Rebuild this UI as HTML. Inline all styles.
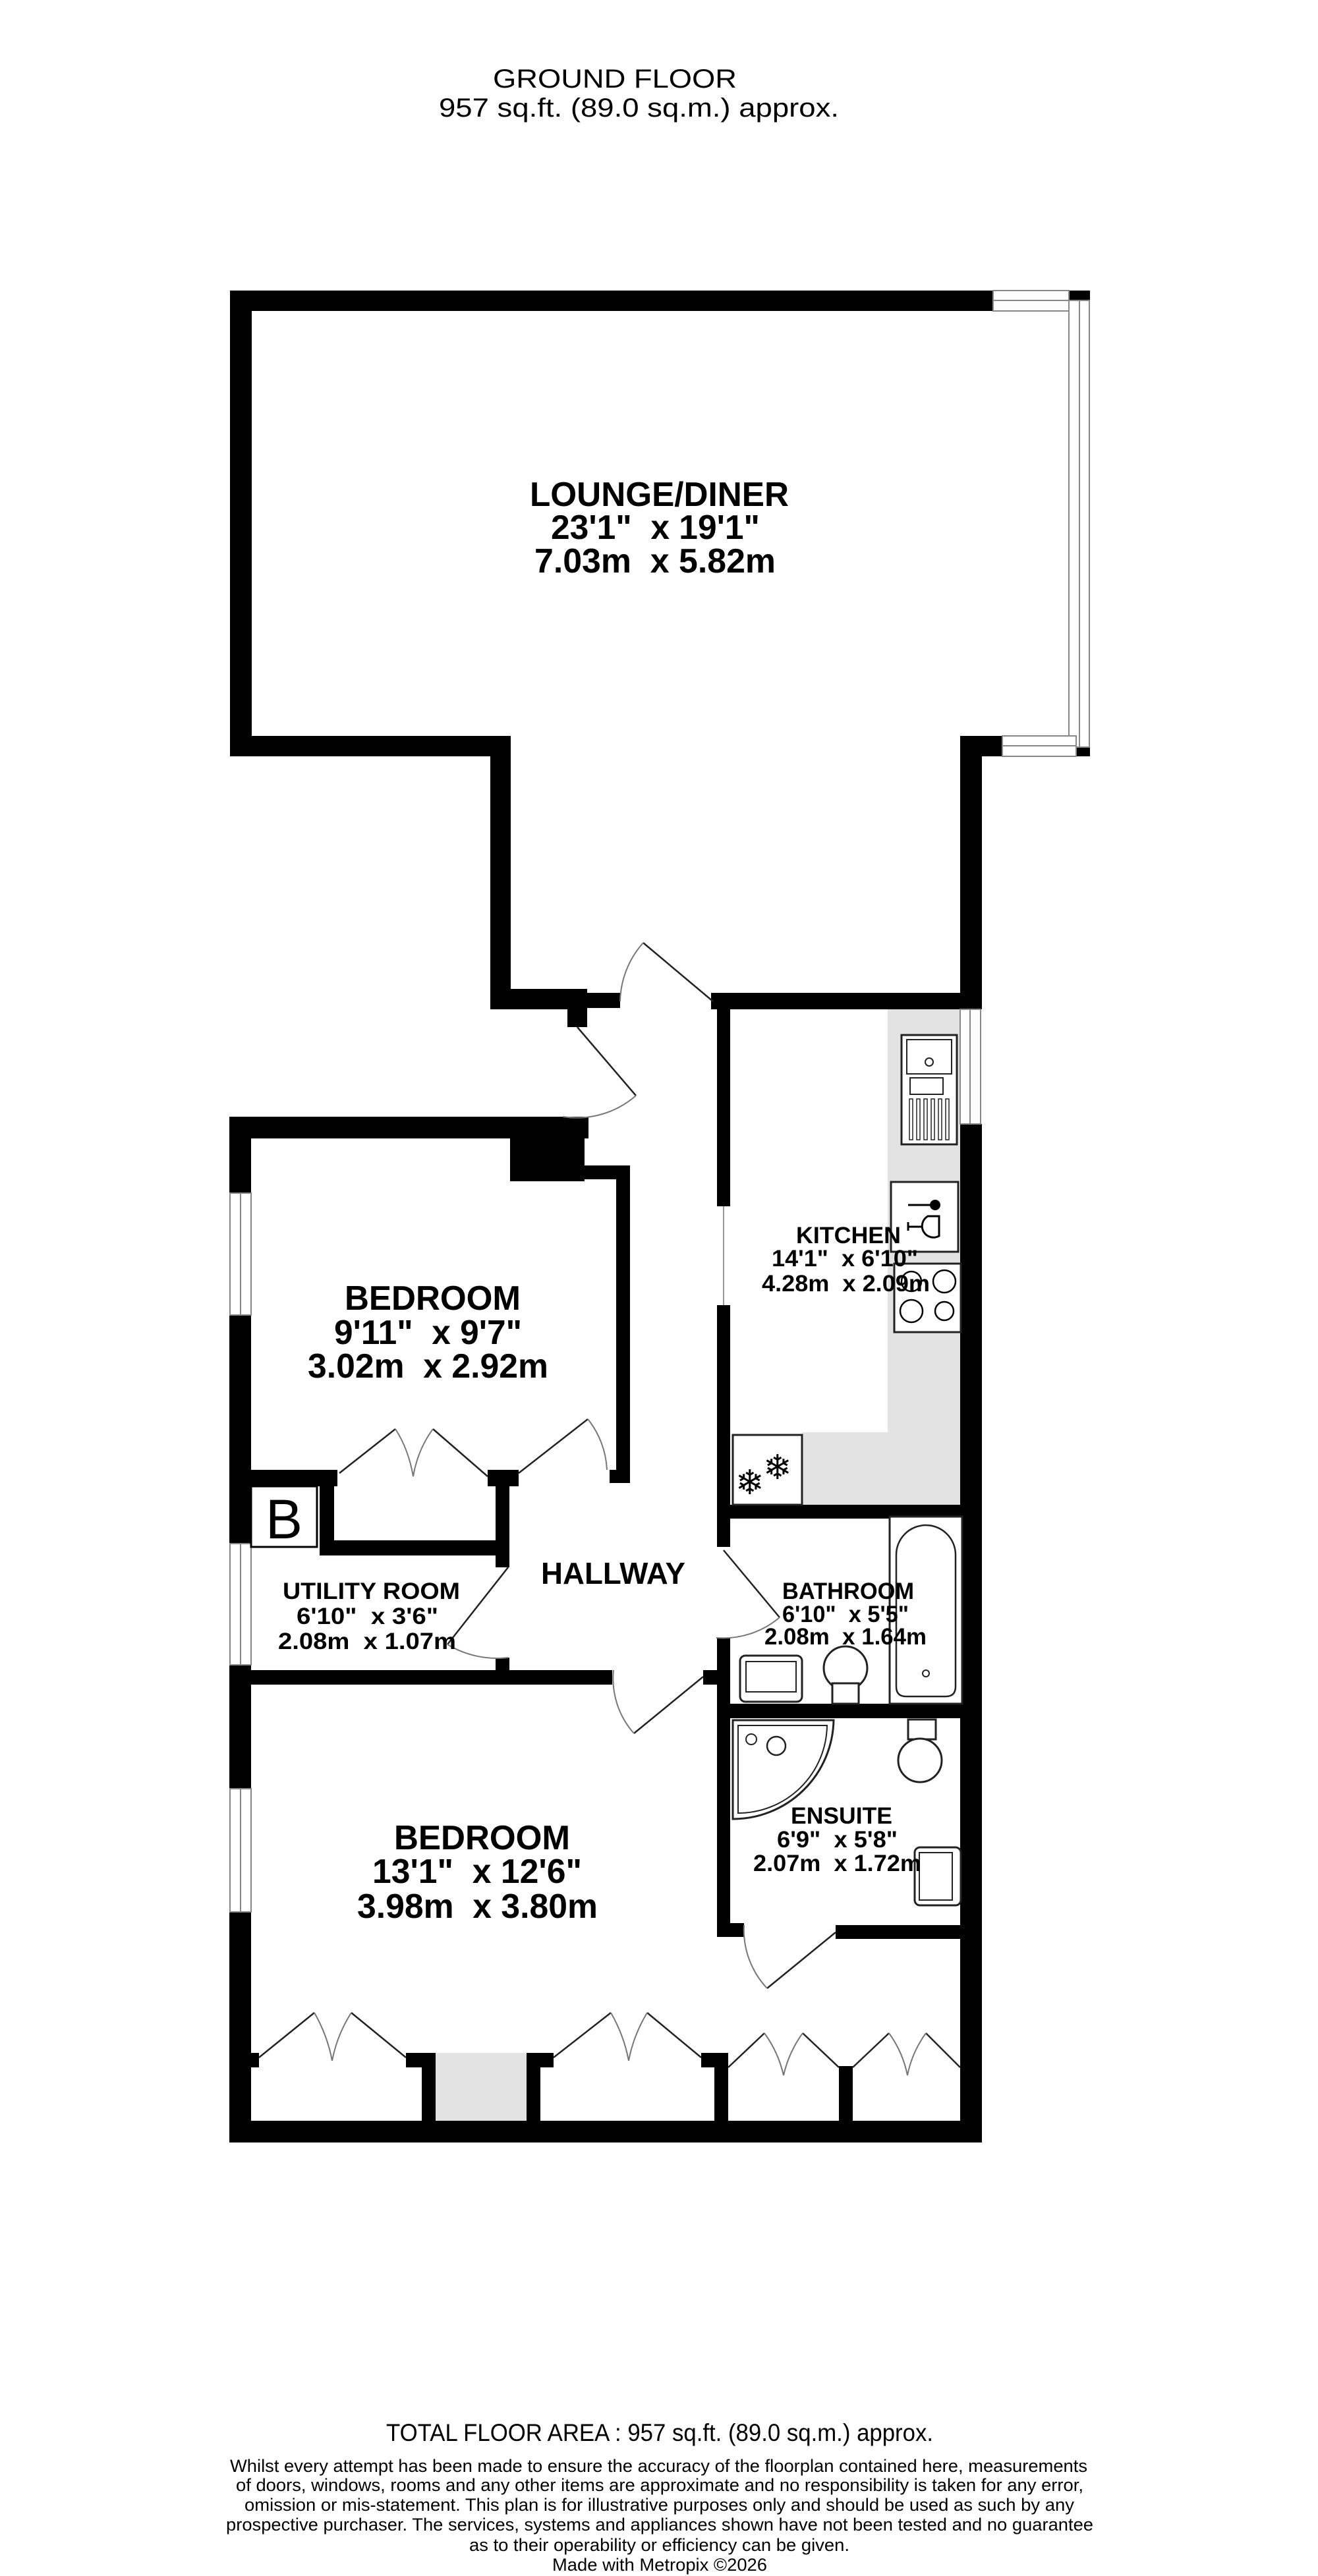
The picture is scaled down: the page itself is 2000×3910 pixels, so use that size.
<!DOCTYPE html>
<html><head><meta charset="utf-8"><style>
html,body{margin:0;padding:0;background:#fff;}
svg{display:block;}
text{font-family:"Liberation Sans",Arial,sans-serif;fill:#000;}
.b{font-weight:bold;}
.d{fill:none;stroke:#222;stroke-width:2.5;}
.a{fill:none;stroke:#777;stroke-width:2;}
.w{fill:#fff;stroke:#888;stroke-width:2;}
.f{fill:#fff;stroke:#222;stroke-width:3;}
</style></head><body>
<svg width="2000" height="3910" viewBox="0 0 2000 3910" xmlns="http://www.w3.org/2000/svg">
<rect width="2000" height="3910" fill="#fff"/>
<text x="748" y="133" font-size="40" textLength="370" lengthAdjust="spacingAndGlyphs">GROUND FLOOR</text>
<text x="666" y="177" font-size="40" textLength="607" lengthAdjust="spacingAndGlyphs">957 sq.ft. (89.0 sq.m.) approx.</text>

<polygon points="1347,1532 1458,1532 1458,2284 1217,2284 1217,2174 1347,2174" fill="#e3e3e3"/>
<rect x="661" y="3116" width="138" height="104" fill="#e3e3e3"/>

<g fill="#000">
<rect x="349" y="441" width="1158" height="31"/>
<rect x="1622" y="441" width="32" height="15"/>
<rect x="1633" y="1134" width="21" height="14"/>
<rect x="349" y="441" width="33" height="707"/>
<rect x="349" y="1117" width="426" height="31"/>
<rect x="744" y="1117" width="31" height="415"/>
<rect x="744" y="1501" width="147" height="31"/>
<rect x="891" y="1507" width="50" height="23"/>
<rect x="861" y="1532" width="30" height="27"/>
<rect x="1079" y="1507" width="408" height="25"/>
<rect x="1457" y="1117" width="64" height="31"/>
<rect x="1457" y="1117" width="33" height="415"/>
<rect x="1457" y="1706" width="33" height="1546"/>
<rect x="1088" y="1532" width="20" height="299"/>
<rect x="1088" y="1981" width="20" height="367"/>
<rect x="1088" y="2284" width="395" height="21"/>
<rect x="348" y="1695" width="545" height="33"/>
<rect x="774" y="1728" width="113" height="65"/>
<rect x="875" y="1769" width="81" height="21"/>
<rect x="935" y="1769" width="21" height="482"/>
<rect x="925" y="2231" width="31" height="20"/>
<rect x="348" y="1695" width="33" height="1557"/>
<rect x="348" y="2231" width="164" height="25"/>
<rect x="485" y="2231" width="22" height="127"/>
<rect x="485" y="2338" width="286" height="23"/>
<rect x="740" y="2231" width="47" height="25"/>
<rect x="752" y="2231" width="21" height="148"/>
<rect x="348" y="2535" width="581" height="22"/>
<rect x="752" y="2516" width="21" height="41"/>
<rect x="1067" y="2535" width="21" height="22"/>
<rect x="1088" y="2486" width="20" height="454"/>
<rect x="1088" y="2919" width="41" height="21"/>
<rect x="1088" y="2586" width="395" height="22"/>
<rect x="1268" y="2922" width="194" height="21"/>
<rect x="380" y="3116" width="13" height="22"/>
<rect x="616" y="3116" width="45" height="22"/>
<rect x="640" y="3116" width="21" height="104"/>
<rect x="799" y="3116" width="41" height="22"/>
<rect x="799" y="3116" width="21" height="104"/>
<rect x="1064" y="3116" width="41" height="22"/>
<rect x="1084" y="3116" width="21" height="104"/>
<rect x="1273" y="3136" width="21" height="84"/>
<rect x="348" y="3219" width="1142" height="33"/>
</g>

<g class="w">
<rect x="1507" y="441" width="115" height="31"/><line x1="1507" y1="456" x2="1622" y2="456"/>
<rect x="1622" y="456" width="31" height="678"/><line x1="1638" y1="456" x2="1638" y2="1134"/>
<rect x="1521" y="1117" width="112" height="31"/><line x1="1521" y1="1132" x2="1633" y2="1132"/>
<rect x="1457" y="1532" width="31" height="174"/><line x1="1472" y1="1532" x2="1472" y2="1706"/>
<rect x="349" y="1811" width="32" height="185"/><line x1="365" y1="1811" x2="365" y2="1996"/>
<rect x="349" y="2343" width="32" height="184"/><line x1="365" y1="2343" x2="365" y2="2527"/>
<rect x="349" y="2715" width="32" height="187"/><line x1="365" y1="2715" x2="365" y2="2902"/>
</g>
<line x1="1098" y1="1831" x2="1098" y2="1981" stroke="#999" stroke-width="2"/>

<line class="d" x1="1082" y1="1520" x2="976" y2="1431"/>
<path class="a" d="M976,1431 A138,138 0 0 0 941,1520"/>
<line class="d" x1="876" y1="1559" x2="965" y2="1663"/>
<path class="a" d="M965,1663 A137,137 0 0 1 854,1695"/>
<line class="d" x1="787" y1="2236" x2="892" y2="2154"/>
<path class="a" d="M892,2154 A133,133 0 0 1 921,2231"/>
<line class="d" x1="771" y1="2379" x2="679" y2="2496"/>
<path class="a" d="M679,2496 A145,145 0 0 0 771,2516"/>
<line class="d" x1="1067" y1="2545" x2="962" y2="2631"/>
<path class="a" d="M962,2631 A125,125 0 0 1 931,2535"/>
<line class="d" x1="1098" y1="2353" x2="1183" y2="2455"/>
<path class="a" d="M1183,2455 A133,133 0 0 1 1087,2486"/>
<line class="d" x1="1268" y1="2933" x2="1164" y2="3018"/>
<path class="a" d="M1164,3018 A130,130 0 0 1 1129,2922"/>
<polyline class="d" points="515,2236 600,2169"/><polyline class="d" points="657,2169 740,2241"/>
<path class="a" d="M600,2169 Q620,2200 627,2241 Q634,2200 657,2169"/>
<polyline class="d" points="393,3123 477,3055"/><polyline class="d" points="533,3055 616,3123"/>
<path class="a" d="M477,3055 Q497,3090 504,3128 Q511,3090 533,3055"/>
<polyline class="d" points="840,3123 927,3055"/><polyline class="d" points="982,3055 1064,3123"/>
<path class="a" d="M927,3055 Q947,3090 954,3128 Q961,3090 982,3055"/>
<polyline class="d" points="1105,3138 1160,3086"/><polyline class="d" points="1218,3086 1273,3138"/>
<path class="a" d="M1160,3086 Q1181,3115 1189,3150 Q1197,3115 1218,3086"/>
<polyline class="d" points="1294,3138 1349,3086"/><polyline class="d" points="1405,3086 1457,3138"/>
<path class="a" d="M1349,3086 Q1370,3115 1377,3150 Q1384,3115 1405,3086"/>

<rect x="381" y="2256" width="100" height="92" fill="#fff" stroke="#000" stroke-width="3"/>
<text x="431" y="2335" font-size="84" text-anchor="middle">B</text>

<rect class="f" x="1368" y="1571" width="84" height="166"/>
<rect class="f" x="1376" y="1578" width="68" height="52" style="stroke-width:2"/>
<circle cx="1410" cy="1612" r="6" fill="none" stroke="#222" stroke-width="2"/>
<rect class="f" x="1381" y="1636" width="50" height="25" style="stroke-width:2"/>
<g stroke="#222" stroke-width="1.5" fill="none">
<rect x="1380" y="1668" width="5" height="62"/><rect x="1391" y="1668" width="5" height="62"/><rect x="1402" y="1668" width="5" height="62"/><rect x="1413" y="1668" width="5" height="62"/><rect x="1424" y="1668" width="5" height="62"/><rect x="1435" y="1668" width="5" height="62"/>
</g>
<rect class="f" x="1352" y="1794" width="102" height="106"/>
<line x1="1378" y1="1829" x2="1412" y2="1829" stroke="#000" stroke-width="3"/><circle cx="1419" cy="1829" r="8"/>
<path d="M1378,1862 H1400 M1378,1855 V1868 M1425,1846 H1408 A15,15 0 0 0 1425,1876 Z" fill="none" stroke="#000" stroke-width="3"/>
<rect class="f" x="1357" y="1918" width="101" height="104"/>
<g fill="none" stroke="#000" stroke-width="2.5"><circle cx="1383" cy="1945" r="15"/><circle cx="1433" cy="1945" r="17"/><circle cx="1383" cy="1990" r="17"/><circle cx="1433" cy="1990" r="14"/></g>
<rect class="f" x="1112" y="2178" width="105" height="106"/>
<text x="1116" y="2268" font-size="52" font-family="DejaVu Sans">❄</text><text x="1158" y="2245" font-size="52" font-family="DejaVu Sans">❄</text>
<rect class="f" x="1350" y="2302" width="110" height="284"/>
<path d="M1360,2560 V2360 A45,45 0 0 1 1450,2360 V2560 Q1450,2575 1435,2575 H1375 Q1360,2575 1360,2560 Z" fill="none" stroke="#222" stroke-width="2.5"/>
<circle cx="1405" cy="2540" r="5" fill="none" stroke="#222" stroke-width="2"/>
<rect class="f" x="1123" y="2513" width="94" height="70" rx="8"/>
<rect x="1132" y="2522" width="76" height="46" fill="none" stroke="#222" stroke-width="2"/>
<circle cx="1283" cy="2532" r="33" fill="#fff" stroke="#222" stroke-width="3"/>
<rect class="f" x="1263" y="2555" width="40" height="31"/>
<path d="M1112,2611 H1265 A153,153 0 0 1 1112,2761 Z" fill="#fff" stroke="#222" stroke-width="3"/>
<path d="M1120,2619 H1255 A135,135 0 0 1 1120,2752 Z" fill="none" stroke="#222" stroke-width="2"/>
<circle cx="1140" cy="2640" r="8" fill="none" stroke="#222" stroke-width="2"/>
<circle cx="1178" cy="2650" r="14" fill="none" stroke="#222" stroke-width="2.5"/>
<rect class="f" x="1378" y="2610" width="42" height="30"/>
<circle cx="1396" cy="2672" r="33" fill="#fff" stroke="#222" stroke-width="3"/>
<rect class="f" x="1388" y="2804" width="70" height="88" rx="8"/>
<rect x="1395" y="2812" width="50" height="72" fill="none" stroke="#222" stroke-width="2"/>

<g class="b">
<text x="804" y="768" font-size="52" textLength="393" lengthAdjust="spacingAndGlyphs">LOUNGE/DINER</text>
<text x="836" y="818" font-size="52" textLength="317" lengthAdjust="spacingAndGlyphs" xml:space="preserve">23'1"  x 19'1"</text>
<text x="811" y="869" font-size="52" textLength="366" lengthAdjust="spacingAndGlyphs" xml:space="preserve">7.03m  x 5.82m</text>
<text x="523" y="1988" font-size="52" textLength="267" lengthAdjust="spacingAndGlyphs">BEDROOM</text>
<text x="507" y="2040" font-size="52" textLength="285" lengthAdjust="spacingAndGlyphs" xml:space="preserve">9'11"  x 9'7"</text>
<text x="467" y="2091" font-size="52" textLength="365" lengthAdjust="spacingAndGlyphs" xml:space="preserve">3.02m  x 2.92m</text>
<text x="1208" y="1887" font-size="35" textLength="159" lengthAdjust="spacingAndGlyphs">KITCHEN</text>
<text x="1171" y="1922" font-size="35" textLength="222" lengthAdjust="spacingAndGlyphs" xml:space="preserve">14'1"  x 6'10"</text>
<text x="1156" y="1960" font-size="35" textLength="255" lengthAdjust="spacingAndGlyphs" xml:space="preserve">4.28m  x 2.09m</text>
<text x="821" y="2404" font-size="46" textLength="219" lengthAdjust="spacingAndGlyphs">HALLWAY</text>
<text x="429" y="2427" font-size="35" textLength="269" lengthAdjust="spacingAndGlyphs">UTILITY ROOM</text>
<text x="450" y="2465" font-size="35" textLength="215" lengthAdjust="spacingAndGlyphs" xml:space="preserve">6'10"  x 3'6"</text>
<text x="422" y="2503" font-size="35" textLength="270" lengthAdjust="spacingAndGlyphs" xml:space="preserve">2.08m  x 1.07m</text>
<text x="1187" y="2427" font-size="35" textLength="200" lengthAdjust="spacingAndGlyphs">BATHROOM</text>
<text x="1187" y="2462" font-size="35" textLength="192" lengthAdjust="spacingAndGlyphs" xml:space="preserve">6'10"  x 5'5"</text>
<text x="1160" y="2496" font-size="35" textLength="246" lengthAdjust="spacingAndGlyphs" xml:space="preserve">2.08m  x 1.64m</text>
<text x="1200" y="2768" font-size="35" textLength="154" lengthAdjust="spacingAndGlyphs">ENSUITE</text>
<text x="1179" y="2804" font-size="35" textLength="183" lengthAdjust="spacingAndGlyphs" xml:space="preserve">6'9"  x 5'8"</text>
<text x="1143" y="2840" font-size="35" textLength="255" lengthAdjust="spacingAndGlyphs" xml:space="preserve">2.07m  x 1.72m</text>
<text x="598" y="2807" font-size="52" textLength="267" lengthAdjust="spacingAndGlyphs">BEDROOM</text>
<text x="565" y="2858" font-size="52" textLength="318" lengthAdjust="spacingAndGlyphs" xml:space="preserve">13'1"  x 12'6"</text>
<text x="542" y="2911" font-size="52" textLength="365" lengthAdjust="spacingAndGlyphs" xml:space="preserve">3.98m  x 3.80m</text>
</g>

<text x="586" y="3705" font-size="37" textLength="830" lengthAdjust="spacingAndGlyphs">TOTAL FLOOR AREA : 957 sq.ft. (89.0 sq.m.) approx.</text>
<g font-size="27">
<text x="349" y="3752" textLength="1301" lengthAdjust="spacingAndGlyphs">Whilst every attempt has been made to ensure the accuracy of the floorplan contained here, measurements</text>
<text x="358" y="3781" textLength="1286" lengthAdjust="spacingAndGlyphs">of doors, windows, rooms and any other items are approximate and no responsibility is taken for any error,</text>
<text x="371" y="3811" textLength="1259" lengthAdjust="spacingAndGlyphs">omission or mis-statement. This plan is for illustrative purposes only and should be used as such by any</text>
<text x="343" y="3841" textLength="1316" lengthAdjust="spacingAndGlyphs">prospective purchaser. The services, systems and appliances shown have not been tested and no guarantee</text>
<text x="712" y="3872" textLength="577" lengthAdjust="spacingAndGlyphs">as to their operability or efficiency can be given.</text>
<text x="838" y="3902" textLength="326" lengthAdjust="spacingAndGlyphs">Made with Metropix ©2026</text>
</g>
</svg>
</body></html>
